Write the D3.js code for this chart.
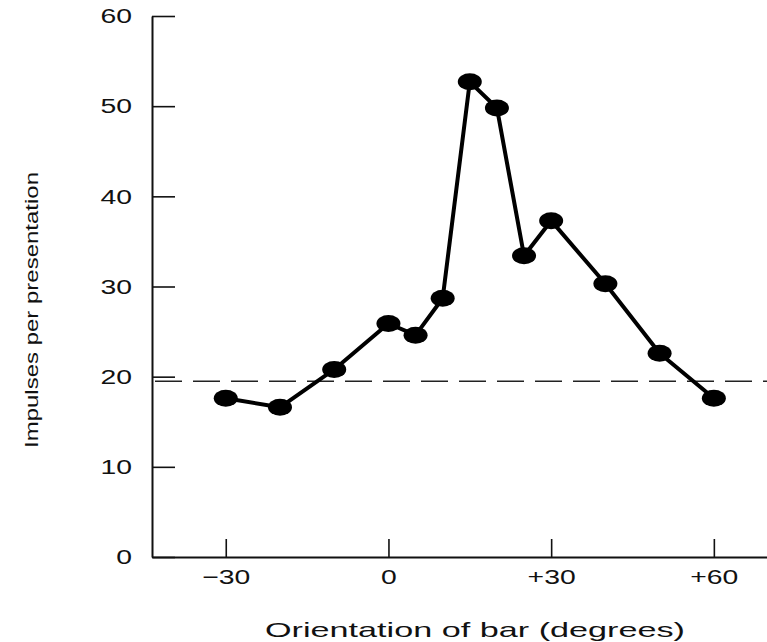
<!DOCTYPE html>
<html>
<head>
<meta charset="utf-8">
<script src="https://cdn.jsdelivr.net/npm/d3@7"></script>
<style>
  html, body { margin: 0; padding: 0; background: #fff; }
  svg { display: block; }
  text { font-family: "Liberation Sans", Arial, Helvetica, sans-serif; fill: #111; }
</style>
</head>
<body>
<svg id="chart" width="767" height="642"></svg>
<script>
// Orientation tuning of a cortical cell: response vs. bar orientation
const orientations = [-30, -20, -10, 0, 5, 10, 15, 20, 25, 30, 40, 50, 60];
const impulses     = [17.6, 16.6, 20.8, 25.9, 24.6, 28.7, 52.7, 49.8, 33.4, 37.3, 30.3, 22.6, 17.6];
const spontaneousLevel = 19.5;

const xTickValues = [-30, 0, 30, 60];
const xTickLabels = ["\u221230", "0", "+30", "+60"];
const yTickValues = [0, 10, 20, 30, 40, 50, 60];

const xTitle = "Orientation of bar (degrees)";
const yTitle = "Impulses per presentation";

const svg = d3.select("#chart");
const W = 767, H = 642;
const plotLeft = 152, plotBottom = 557, plotTop = 16;
const sx = 1.35; // horizontal stretch of the lettering

const x = d3.scaleLinear().domain([-43.6, 69.8]).range([plotLeft, W]);
const y = d3.scaleLinear().domain([0, 60]).range([plotBottom, plotTop]);

// y axis
const yAxis = d3.axisLeft(y).tickValues(yTickValues).tickSizeInner(-23).tickSizeOuter(0).tickPadding(0);
const gy = svg.append("g").attr("transform", `translate(${plotLeft},0)`).call(yAxis);
gy.select(".domain").attr("stroke", "#111").attr("stroke-width", 2);
gy.selectAll(".tick line").attr("stroke", "#111").attr("stroke-width", 1.6);
gy.selectAll(".tick text")
  .attr("font-size", 21)
  .attr("x", -20 / sx)
  .attr("transform", `scale(${sx},1)`)
  .attr("fill", "#111");

// x axis
const xAxis = d3.axisBottom(x).tickValues(xTickValues)
  .tickFormat((d, i) => xTickLabels[i])
  .tickSizeInner(-18).tickSizeOuter(0).tickPadding(0);
const gx = svg.append("g").attr("transform", `translate(0,${plotBottom})`).call(xAxis);
gx.select(".domain").attr("stroke", "#111").attr("stroke-width", 2);
gx.selectAll(".tick line").attr("stroke", "#111").attr("stroke-width", 1.6);
gx.selectAll(".tick text")
  .attr("font-size", 21)
  .attr("y", 27)
  .attr("dy", 0)
  .attr("transform", `scale(${sx},1)`)
  .attr("fill", "#111");

// dashed reference level
svg.append("line")
  .attr("x1", plotLeft + 3).attr("x2", W)
  .attr("y1", y(spontaneousLevel)).attr("y2", y(spontaneousLevel))
  .attr("stroke", "#222").attr("stroke-width", 1.6)
  .attr("stroke-dasharray", "27,11");

// response curve
const pts = orientations.map((o, i) => [o, impulses[i]]);
svg.append("path")
  .datum(pts)
  .attr("fill", "none")
  .attr("stroke", "#000")
  .attr("stroke-width", 4)
  .attr("stroke-linejoin", "round")
  .attr("d", d3.line().x(d => x(d[0])).y(d => y(d[1])));

svg.selectAll("ellipse.pt")
  .data(pts)
  .join("ellipse")
  .attr("class", "pt")
  .attr("cx", d => x(d[0]))
  .attr("cy", d => y(d[1]))
  .attr("rx", 12)
  .attr("ry", 8.5)
  .attr("fill", "#000");

// axis titles
svg.append("text")
  .attr("x", 475).attr("y", 637)
  .attr("text-anchor", "middle")
  .attr("font-size", 21)
  .attr("textLength", 420)
  .attr("lengthAdjust", "spacingAndGlyphs")
  .text(xTitle);

svg.append("text")
  .attr("transform", "translate(38,310) rotate(-90)")
  .attr("text-anchor", "middle")
  .attr("font-size", 18)
  .attr("textLength", 276)
  .attr("lengthAdjust", "spacingAndGlyphs")
  .text(yTitle);
</script>
</body>
</html>
